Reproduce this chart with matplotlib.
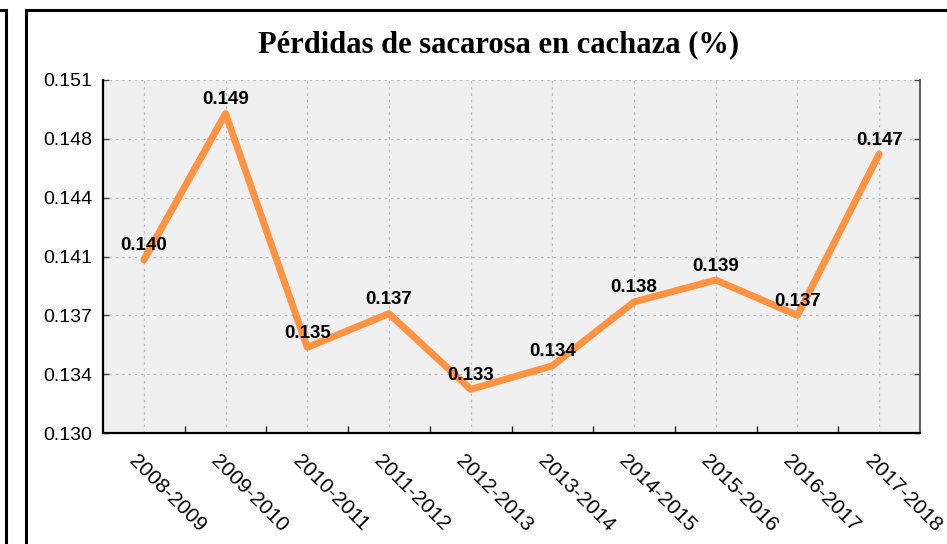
import numpy as np
import matplotlib
matplotlib.use('Agg')
import matplotlib.pyplot as plt
from matplotlib.patches import Rectangle
from matplotlib.transforms import offset_copy

seasons = ['2008-2009', '2009-2010', '2010-2011', '2011-2012', '2012-2013',
           '2013-2014', '2014-2015', '2015-2016', '2016-2017', '2017-2018']
perdidas = [0.1403, 0.1490, 0.1351, 0.1371, 0.1326, 0.1340, 0.1378, 0.1391, 0.1370, 0.1466]
labels = ['0.140', '0.149', '0.135', '0.137', '0.133', '0.134', '0.138', '0.139', '0.137', '0.147']
yticks = [0.130, 0.1335, 0.137, 0.1405, 0.144, 0.1475, 0.151]
ytick_labels = ['0.130', '0.134', '0.137', '0.141', '0.144', '0.148', '0.151']

W, H = 947, 544
fig = plt.figure(figsize=(W / 100, H / 100), dpi=100)
ax = fig.add_axes([103 / W, 1 - 433 / H, (920 - 103) / W, (433 - 80) / H])
ax.set_facecolor('#f0f0f0')

x = np.arange(len(seasons))
ax.plot(x, perdidas, color='#ff9341', linewidth=5, solid_capstyle='round', solid_joinstyle='round', zorder=3)
for xi, yi, lab in zip(x, perdidas, labels):
    ax.annotate(lab, (xi, yi), xytext=(0, 10), textcoords='offset points',
                ha='center', va='center', fontsize=13.5, fontweight='bold',
                family='Liberation Sans', zorder=4)

ax.set_xlim(-0.5, len(seasons) - 0.5)
ax.set_ylim(0.130, 0.151)
ax.set_yticks(yticks)
ax.set_yticklabels(ytick_labels, fontsize=14, family='Liberation Sans')
ax.set_xticks(x)
ax.set_xticklabels(seasons, fontsize=15, family='Liberation Sans', rotation=-45,
                   ha='left', va='top', rotation_mode='anchor')
ax.set_xticks(np.arange(0.5, len(seasons) - 1, 1), minor=True)
ax.tick_params(axis='x', which='major', length=0, pad=13)
ax.tick_params(axis='x', which='minor', direction='in', length=5, width=1, color='#222222')
ax.tick_params(axis='y', direction='in', length=4, width=1, color='#444444', right=True, pad=8)
for lab in ax.get_xticklabels():
    lab.set_transform(offset_copy(lab.get_transform(), fig=fig, x=-5, y=0, units='dots'))

ax.grid(True, color='#bdbdbd', linestyle=(0, (2, 3)), linewidth=0.9, zorder=0)
ax.set_axisbelow(True)
ax.spines['top'].set_visible(False)
ax.spines['left'].set_linewidth(1.6)
ax.spines['bottom'].set_linewidth(1.6)
ax.spines['right'].set_color('#444444')
ax.spines['right'].set_linewidth(1.2)

fig.text(499 / W, 1 - 45 / H, 'Pérdidas de sacarosa en cachaza (%)', ha='center', va='center',
         fontsize=22, fontweight='bold', family='Liberation Serif')

# outer frames
fig.add_artist(Rectangle((26 / W, -0.1), 1.2, 1.1 - 10 / H, transform=fig.transFigure,
                         fill=False, ec='black', lw=2.2))
fig.add_artist(Rectangle((-0.2, -0.1), 0.2 + 5.5 / W, 1.1 - 10 / H, transform=fig.transFigure,
                         fill=False, ec='black', lw=2.2))

fig.savefig('out.png', dpi=100)
